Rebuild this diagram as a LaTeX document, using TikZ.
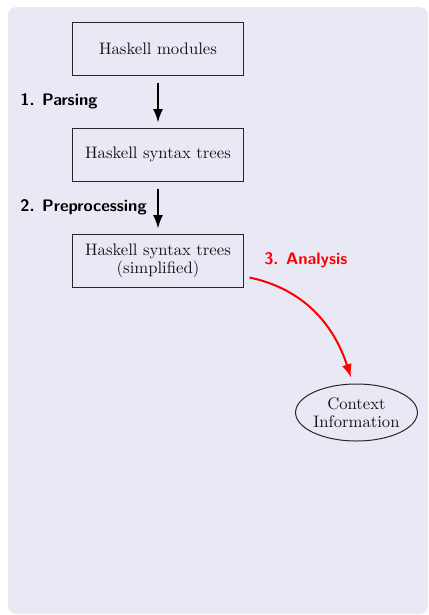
\documentclass[tikz,border=0pt]{standalone}
\usepackage{tikz}
\usetikzlibrary{shapes.geometric,arrows.meta}
\definecolor{bgc}{RGB}{233,233,245}
\definecolor{hred}{RGB}{255,0,0}
\tikzset{
  stagebox/.style={draw=black!85, line width=0.6pt, minimum width=103.2pt, minimum height=31.8pt, inner sep=0pt, align=center, font=\fontsize{10}{11}\selectfont, text=black!92},
  ctxnode/.style={draw=black!85, ellipse, line width=0.6pt, minimum width=72.6pt, minimum height=34.2pt, inner sep=0pt, align=center, font=\fontsize{10}{10.5}\selectfont, text=black!92},
  steplabel/.style={font=\sffamily\bfseries\fontsize{10}{12}\selectfont, inner sep=0pt},
  flow/.style={line width=1.2pt, -{Latex[length=8pt,width=6pt]}},
  redflow/.style={line width=1.2pt, draw=hred, -{Latex[length=8pt,width=6pt]}}
}
\begin{document}
\begin{tikzpicture}[x=0.6pt, y=-0.6pt]
\useasboundingbox (0,0) rectangle (429,615);
\fill[bgc, rounded corners=5pt] (8,7) rectangle (428,614);
\node[stagebox] (b1) at (158,48.5) {Haskell modules};
\node[stagebox] (b2) at (158,154.5) {Haskell syntax trees};
\node[stagebox] (b3) at (158,260.5) {Haskell syntax trees\\(simplified)};
\node[ctxnode] (ctx) at (356.5,412.5) {Context\\Information};
\node[steplabel, anchor=west] (l1) at (20,101) {1.\hspace{4.5pt}Parsing};
\node[steplabel, anchor=west] (l2) at (20,207) {2.\hspace{4.5pt}Preprocessing};
\node[steplabel, anchor=west, text=hred] (l3) at (264,260) {3.\hspace{4.5pt}Analysis};
\draw[flow] ([yshift=-7*0.6pt]b1.south) -- ([yshift=5*0.6pt]b2.north);
\draw[flow] ([yshift=-7*0.6pt]b2.south) -- ([yshift=5*0.6pt]b3.north);
\draw[redflow] ([xshift=5*0.6pt, yshift=10*0.6pt]b3.south east) to[out=-12, in=108] ([xshift=-5.5*0.6pt, yshift=6*0.6pt]ctx.north);
\end{tikzpicture}
\end{document}
